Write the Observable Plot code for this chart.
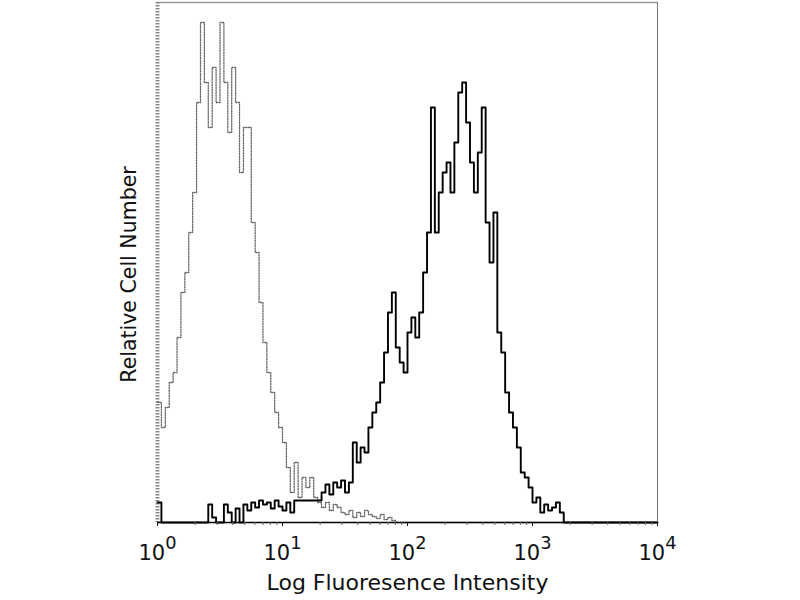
<!DOCTYPE html>
<html>
<head>
<meta charset="utf-8">
<script src="https://cdn.jsdelivr.net/npm/d3@7"></script>
<script src="https://cdn.jsdelivr.net/npm/@observablehq/plot@0.6"></script>
<style>
  html, body { margin: 0; padding: 0; background: #fff; }
</style>
</head>
<body>
<div id="chart"></div>
<script>
// 128 log-spaced channels across 10^0 .. 10^4
const channelsPerDecade = 32;
const decadeTicks = [1, 10, 100, 1000, 10000];
const xLabel = "Log Fluoresence Intensity";
const yLabel = "Relative Cell Number";

// stained sample (solid black)
const stainedCounts = [
  20, 0, 0, 0, 0, 0, 0, 0, 0, 0, 0, 0, 0, 18, 5, 0,
  0, 18, 10, 0, 14, 0, 18, 12, 20, 15, 22, 18, 20, 14, 22, 16,
  12, 20, 10, 22, 22, 22, 22, 22, 22, 22, 30, 38, 28, 40, 35, 42,
  30, 40, 80, 60, 75, 70, 95, 110, 120, 140, 170, 210, 230, 175, 160, 150,
  190, 205, 185, 210, 250, 290, 415, 290, 330, 350, 360, 330, 380, 430, 440, 400,
  360, 330, 370, 415, 300, 260, 310, 190, 170, 130, 110, 95, 75, 50, 45, 35,
  20, 25, 10, 18, 12, 15, 20, 10, 0, 0, 0, 0, 0, 0, 0, 0,
  0, 0, 0, 0, 0, 0, 0, 0, 0, 0, 0, 0, 0, 0, 0, 0
];

// isotype control (dotted grey)
const controlCounts = [
  120, 95, 115, 140, 150, 185, 230, 250, 290, 330, 420, 500, 440, 395, 455, 420,
  500, 440, 390, 455, 420, 350, 395, 395, 300, 270, 220, 180, 150, 130, 110, 95,
  80, 55, 30, 60, 25, 45, 35, 45, 25, 20, 15, 20, 12, 18, 15, 10,
  8, 12, 5, 10, 6, 12, 8, 6, 4, 8, 3, 5, 2, 0, 0, 0,
  0, 0, 0, 0, 0, 0, 0, 0, 0, 0, 0, 0, 0, 0, 0, 0,
  0, 0, 0, 0, 0, 0, 0, 0, 0, 0, 0, 0, 0, 0, 0, 0,
  0, 0, 0, 0, 0, 0, 0, 0, 0, 0, 0, 0, 0, 0, 0, 0,
  0, 0, 0, 0, 0, 0, 0, 0, 0, 0, 0, 0, 0, 0, 0, 0
];

function toSteps(counts) {
  const pts = counts.map((c, i) => ({x: Math.pow(10, i / channelsPerDecade), y: c}));
  pts.push({x: 10000, y: counts[counts.length - 1]});
  return pts;
}
const stained = toSteps(stainedCounts);
const control = toSteps(controlCounts);

const minorTicks = [];
for (let e = 0; e < 4; e++) for (let k = 2; k <= 9; k++) minorTicks.push(k * Math.pow(10, e));

const font = "DejaVu Sans";

const chart = Plot.plot({
  width: 800,
  height: 600,
  marginLeft: 157,
  marginRight: 143,
  marginTop: 2,
  marginBottom: 78,
  style: {fontFamily: font, background: "#fff", color: "#111"},
  x: {type: "log", domain: [1, 10000]},
  y: {domain: [0, 520], axis: null},
  marks: [
    // frame
    Plot.ruleY([520], {stroke: "#999", strokeWidth: 1.5}),
    Plot.ruleX([10000], {stroke: "#777", strokeWidth: 1}),
    Plot.ruleX([1], {stroke: "#888", strokeWidth: 4, strokeDasharray: "1.5,1.5"}),
    // control histogram
    Plot.line(control, {x: "x", y: "y", curve: "step-after", stroke: "#666", strokeWidth: 1.3, strokeDasharray: "1.2,1.4"}),
    // stained histogram
    Plot.line(stained, {x: "x", y: "y", curve: "step-after", stroke: "#000", strokeWidth: 1.9}),
    Plot.ruleY([0], {stroke: "#000", strokeWidth: 1.6}),
    Plot.axisX(minorTicks, {tickSize: 3, tickFormat: () => "", stroke: "#666", label: null}),
    Plot.axisX(decadeTicks, {
      tickSize: 4,
      tickPadding: 19,
      fontSize: 21,
      tickFormat: (d) => "10^" + Math.round(Math.log10(d)),
      label: null
    }),
    Plot.text([xLabel], {frameAnchor: "bottom", dy: 60, lineAnchor: "middle", fontSize: 22, fill: "#111"}),
    Plot.text([yLabel], {frameAnchor: "left", dx: -28.5, dy: 12, rotate: -90, textAnchor: "middle", lineAnchor: "middle", fontSize: 20.5, fill: "#111"})
  ]
});

// render exponents as raised superscripts
d3.select(chart).selectAll("text").each(function () {
  const t = this.textContent;
  if (/^10\^\d$/.test(t)) {
    const [base, exp] = t.split("^");
    const sel = d3.select(this);
    sel.text(null);
    sel.attr("fill", "#111");
    sel.append("tspan").text(base);
    sel.append("tspan").attr("dy", "-0.62em").attr("font-size", "0.85em").text(exp);
  }
});

document.getElementById("chart").appendChild(chart);
</script>
</body>
</html>
